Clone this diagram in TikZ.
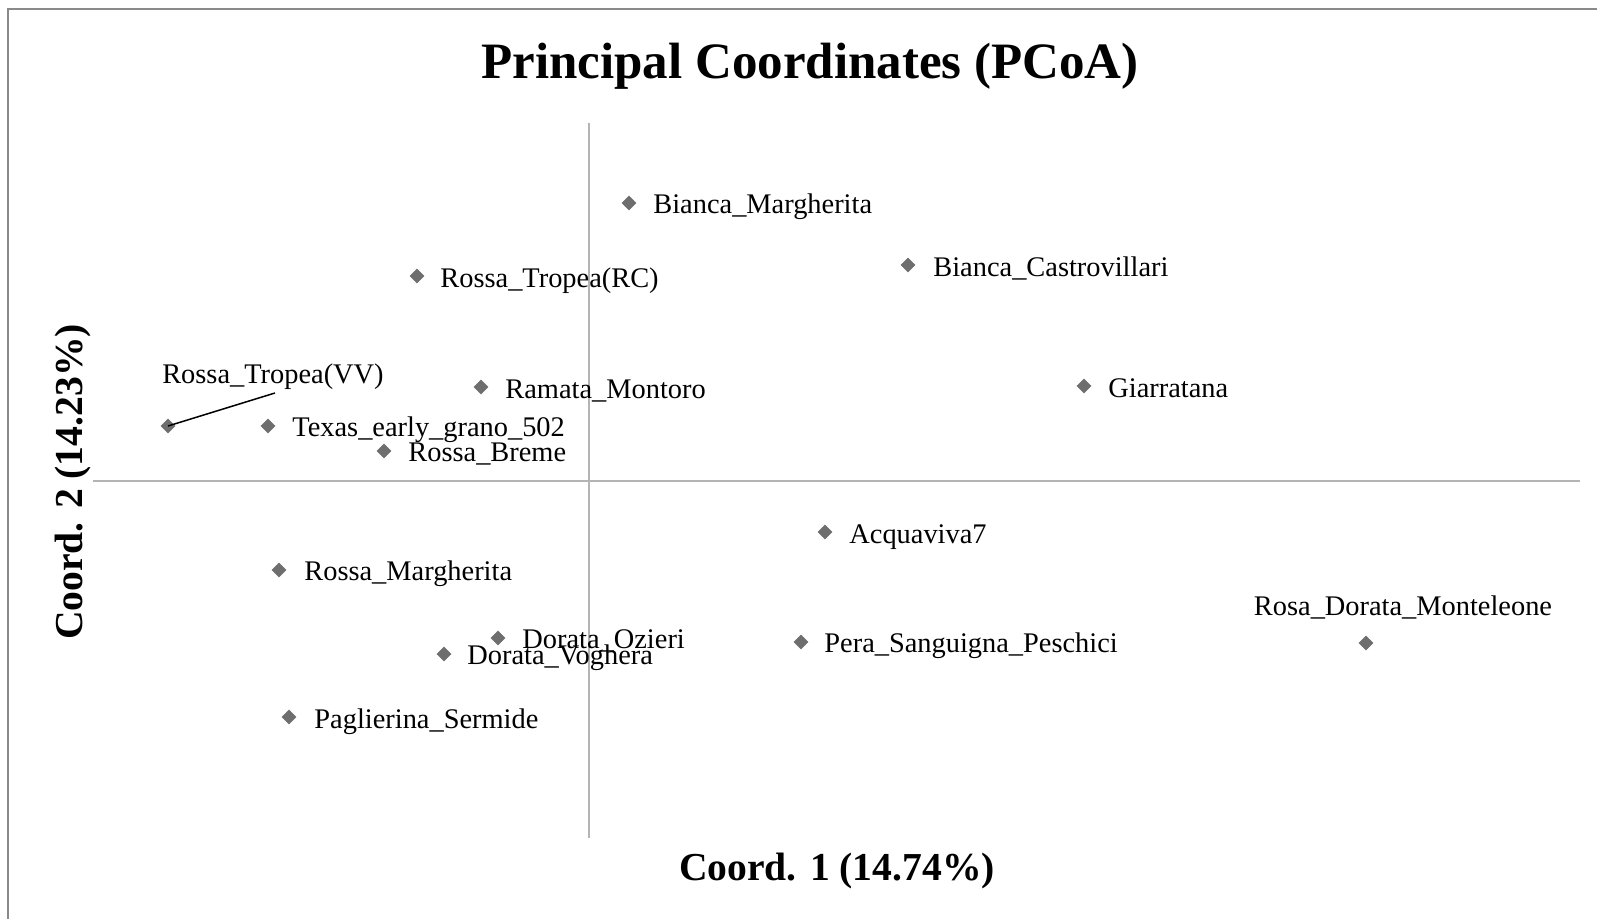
\documentclass[tikz,border=0pt]{standalone}
\usepackage{fontspec}
\setmainfont{Liberation Serif}
\usetikzlibrary{shapes.geometric}
\definecolor{markgray}{HTML}{6E6E6E}
\definecolor{axisgray}{HTML}{B4B4B4}
\definecolor{framegray}{HTML}{8A8A8A}
\begin{document}
\begin{tikzpicture}[x=0.5pt,y=-0.5pt,
  pt/.style={diamond,fill=markgray,inner sep=0pt,minimum width=7.5pt,minimum height=7.5pt},
  lbl/.style={anchor=base west,inner sep=0pt,font=\fontsize{14.2}{16}\selectfont},
  axis/.style={draw=axisgray,line width=0.75pt},
  axtitle/.style={inner sep=0pt,font=\fontsize{19.8}{24}\selectfont\bfseries}]
\useasboundingbox (0,0) rectangle (1597,919);
\fill[white] (0,0) rectangle (1597,919);
% frame (top and left edges)
\draw[framegray,line width=0.8pt] (8,919) -- (8,9) -- (1597,9);

% title
\node[inner sep=0pt,anchor=base,font=\fontsize{25.5}{30}\selectfont\bfseries] (title) at (810,79) {Principal Coordinates (PCoA)};

% axes
\coordinate (xl) at (93,481);
\coordinate (xr) at (1580,481);
\coordinate (yt) at (589,123);
\coordinate (yb) at (589,838);
\draw[axis] (xl) -- (xr);
\draw[axis] (yt) -- (yb);

\node[axtitle,anchor=base] (xlab) at (837,880) {Coord. 1 (14.74\%)};
\node[axtitle,anchor=base,rotate=90] (ylab) at (83,482) {Coord. 2 (14.23\%)};

% points
\node[pt] (p1) at (629,203) {};
\node[lbl] (l1) at (653,214) {Bianca\_Margherita};
\node[pt] (p2) at (417,276) {};
\node[lbl] (l2) at (440,288) {Rossa\_Tropea(RC)};
\node[pt] (p3) at (908,265) {};
\node[lbl] (l3) at (933,277) {Bianca\_Castrovillari};
\node[pt] (p4) at (168,426) {};
\node[lbl,anchor=base] (l4) at (273,384) {Rossa\_Tropea(VV)};
\coordinate (l4end) at (275,393);
\draw[black,line width=0.75pt] (l4end) -- (p4.center);
\node[pt] (p5) at (481,387) {};
\node[lbl] (l5) at (505,399) {Ramata\_Montoro};
\node[pt] (p6) at (1084,386) {};
\node[lbl] (l6) at (1108,398) {Giarratana};
\node[pt] (p7) at (268,426) {};
\node[lbl] (l7) at (292,437) {Texas\_early\_grano\_502};
\node[pt] (p8) at (384,451) {};
\node[lbl] (l8) at (408,462) {Rossa\_Breme};
\node[pt] (p9) at (825,532) {};
\node[lbl] (l9) at (849,544) {Acquaviva7};
\node[pt] (p10) at (279,570) {};
\node[lbl] (l10) at (304,581) {Rossa\_Margherita};
\node[pt] (p11) at (1366,643) {};
\node[lbl,anchor=base] (l11) at (1403,616) {Rosa\_Dorata\_Monteleone};
\node[pt] (p12) at (498,638) {};
\node[lbl] (l12) at (522,648) {Dorata\_Ozieri};
\node[pt] (p13) at (444,654) {};
\node[lbl] (l13) at (467,664) {Dorata\_Voghera};
\node[pt] (p14) at (801,642) {};
\node[lbl] (l14) at (824,653) {Pera\_Sanguigna\_Peschici};
\node[pt] (p15) at (289,717) {};
\node[lbl] (l15) at (314,728) {Paglierina\_Sermide};
\end{tikzpicture}
\end{document}
